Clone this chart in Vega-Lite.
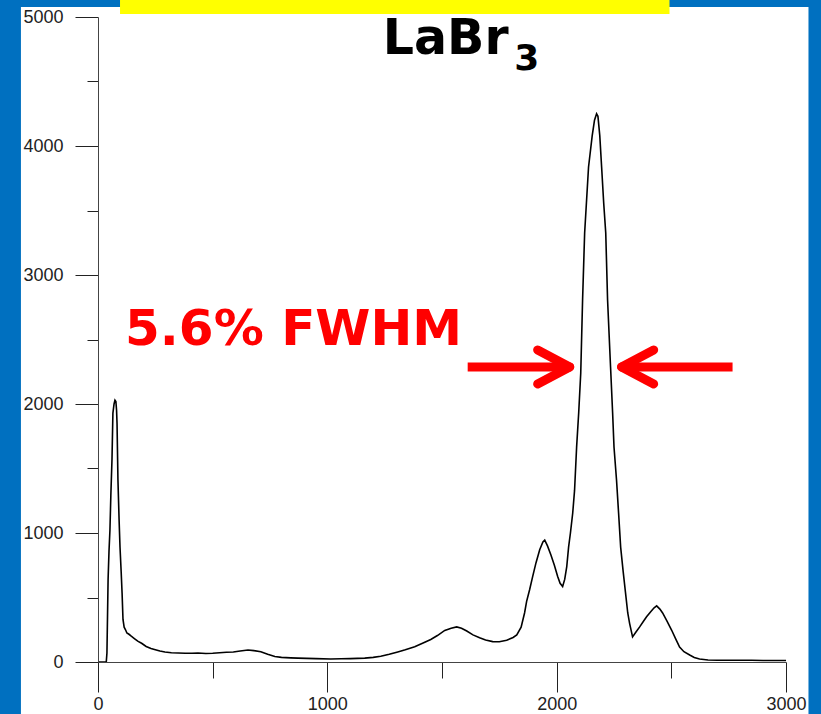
{
  "$schema": "https://vega.github.io/schema/vega-lite/v6.json",
  "width": 688,
  "height": 645,
  "autosize": {"type": "none"},
  "padding": {"left": 98, "top": 17, "right": 35, "bottom": 52},
  "background": "#0070C0",
  "config": {"view": {"stroke": null}},
  "datasets": {
    "spectrum": [
      {"channel": 0, "counts": 0}, {"channel": 30, "counts": 0}, {"channel": 36, "counts": 0},
      {"channel": 39, "counts": 70}, {"channel": 44, "counts": 640}, {"channel": 48, "counts": 860},
      {"channel": 52, "counts": 1020}, {"channel": 56, "counts": 1290}, {"channel": 61, "counts": 1570},
      {"channel": 65, "counts": 1930}, {"channel": 70, "counts": 2000}, {"channel": 74, "counts": 2030},
      {"channel": 78, "counts": 2020}, {"channel": 81, "counts": 1950}, {"channel": 83, "counts": 1850},
      {"channel": 87, "counts": 1410}, {"channel": 92, "counts": 1100}, {"channel": 96, "counts": 890},
      {"channel": 101, "counts": 700}, {"channel": 105, "counts": 535}, {"channel": 109, "counts": 330},
      {"channel": 114, "counts": 270}, {"channel": 120, "counts": 250}, {"channel": 126, "counts": 225},
      {"channel": 135, "counts": 215}, {"channel": 145, "counts": 200}, {"channel": 160, "counts": 180},
      {"channel": 175, "counts": 160}, {"channel": 190, "counts": 145}, {"channel": 210, "counts": 120},
      {"channel": 231, "counts": 105}, {"channel": 250, "counts": 95}, {"channel": 270, "counts": 85},
      {"channel": 292, "counts": 78}, {"channel": 320, "counts": 72}, {"channel": 350, "counts": 70},
      {"channel": 380, "counts": 68}, {"channel": 410, "counts": 68}, {"channel": 436, "counts": 70},
      {"channel": 470, "counts": 66}, {"channel": 500, "counts": 68}, {"channel": 530, "counts": 72},
      {"channel": 560, "counts": 76}, {"channel": 590, "counts": 78}, {"channel": 620, "counts": 85},
      {"channel": 654, "counts": 93}, {"channel": 680, "counts": 88}, {"channel": 710, "counts": 80},
      {"channel": 740, "counts": 60}, {"channel": 771, "counts": 42}, {"channel": 800, "counts": 36},
      {"channel": 840, "counts": 32}, {"channel": 871, "counts": 30}, {"channel": 910, "counts": 28},
      {"channel": 950, "counts": 26}, {"channel": 1015, "counts": 23}, {"channel": 1060, "counts": 25},
      {"channel": 1100, "counts": 26}, {"channel": 1163, "counts": 30}, {"channel": 1200, "counts": 36},
      {"channel": 1233, "counts": 45}, {"channel": 1270, "counts": 60}, {"channel": 1307, "counts": 78},
      {"channel": 1340, "counts": 95}, {"channel": 1381, "counts": 118}, {"channel": 1420, "counts": 150},
      {"channel": 1451, "counts": 175}, {"channel": 1480, "counts": 205}, {"channel": 1512, "counts": 245},
      {"channel": 1540, "counts": 262}, {"channel": 1564, "counts": 272}, {"channel": 1585, "counts": 262},
      {"channel": 1608, "counts": 240}, {"channel": 1635, "counts": 210}, {"channel": 1664, "counts": 188},
      {"channel": 1690, "counts": 170}, {"channel": 1721, "counts": 158}, {"channel": 1750, "counts": 157},
      {"channel": 1782, "counts": 168}, {"channel": 1810, "counts": 190}, {"channel": 1826, "counts": 210},
      {"channel": 1845, "counts": 270}, {"channel": 1860, "counts": 380}, {"channel": 1869, "counts": 470},
      {"channel": 1882, "counts": 560}, {"channel": 1895, "counts": 660}, {"channel": 1910, "counts": 770},
      {"channel": 1926, "counts": 870}, {"channel": 1940, "counts": 930}, {"channel": 1948, "counts": 945},
      {"channel": 1960, "counts": 900}, {"channel": 1975, "counts": 830}, {"channel": 1990, "counts": 750},
      {"channel": 2004, "counts": 665}, {"channel": 2015, "counts": 610}, {"channel": 2026, "counts": 585},
      {"channel": 2035, "counts": 640}, {"channel": 2044, "counts": 740}, {"channel": 2052, "counts": 890},
      {"channel": 2060, "counts": 1000}, {"channel": 2070, "counts": 1155}, {"channel": 2078, "counts": 1330},
      {"channel": 2087, "counts": 1667}, {"channel": 2096, "counts": 1930}, {"channel": 2105, "counts": 2240},
      {"channel": 2113, "counts": 2806}, {"channel": 2122, "counts": 3326}, {"channel": 2139, "counts": 3837},
      {"channel": 2155, "counts": 4080}, {"channel": 2165, "counts": 4200}, {"channel": 2174, "counts": 4250},
      {"channel": 2180, "counts": 4230}, {"channel": 2188, "counts": 4080}, {"channel": 2196, "counts": 3837},
      {"channel": 2205, "counts": 3560}, {"channel": 2214, "counts": 3326}, {"channel": 2222, "counts": 2806},
      {"channel": 2235, "counts": 2287}, {"channel": 2244, "counts": 1930}, {"channel": 2250, "counts": 1667},
      {"channel": 2261, "counts": 1411}, {"channel": 2270, "counts": 1155}, {"channel": 2279, "counts": 891},
      {"channel": 2290, "counts": 700}, {"channel": 2300, "counts": 540}, {"channel": 2310, "counts": 380},
      {"channel": 2318, "counts": 300}, {"channel": 2331, "counts": 195}, {"channel": 2345, "counts": 230},
      {"channel": 2362, "counts": 272}, {"channel": 2380, "counts": 320}, {"channel": 2392, "counts": 350},
      {"channel": 2410, "counts": 390}, {"channel": 2425, "counts": 420}, {"channel": 2436, "counts": 435},
      {"channel": 2450, "counts": 410}, {"channel": 2462, "counts": 380}, {"channel": 2480, "counts": 320},
      {"channel": 2501, "counts": 248}, {"channel": 2520, "counts": 175}, {"channel": 2536, "counts": 116},
      {"channel": 2555, "counts": 80}, {"channel": 2580, "counts": 54}, {"channel": 2600, "counts": 35},
      {"channel": 2623, "counts": 23}, {"channel": 2660, "counts": 16}, {"channel": 2700, "counts": 14},
      {"channel": 2750, "counts": 14}, {"channel": 2800, "counts": 13}, {"channel": 2850, "counts": 13},
      {"channel": 2900, "counts": 12}, {"channel": 2950, "counts": 12}, {"channel": 3000, "counts": 12}
    ],
    "arrows": [
      {"part": "shaft", "x": 1612, "y": 2287, "x2": 2040, "y2": 2287},
      {"part": "arm", "x": 2057, "y": 2287, "x2": 1917, "y2": 2419},
      {"part": "arm", "x": 2057, "y": 2287, "x2": 1917, "y2": 2155},
      {"part": "shaft", "x": 2300, "y": 2287, "x2": 2767, "y2": 2287},
      {"part": "arm", "x": 2283, "y": 2287, "x2": 2423, "y2": 2419},
      {"part": "arm", "x": 2283, "y": 2287, "x2": 2423, "y2": 2155}
    ]
  },
  "encoding": {
    "x": {
      "type": "quantitative",
      "scale": {"domain": [0, 3000], "nice": false, "zero": false},
      "axis": {
        "values": [0, 500, 1000, 1500, 2000, 2500, 3000],
        "format": "d",
        "labelExpr": "datum.value % 1000 === 0 ? datum.label : ''",
        "tickSize": {"condition": {"test": "datum.value % 1000 === 0", "value": 30}, "value": 16},
        "grid": false, "title": null, "zindex": 1,
        "domainColor": "#444444", "tickColor": "#222222",
        "labelFont": "Liberation Sans", "labelFontSize": 18, "labelColor": "#222222",
        "labelPadding": 3, "labelFlush": false, "labelOverlap": false
      }
    },
    "y": {
      "type": "quantitative",
      "scale": {"domain": [0, 5000], "nice": false, "zero": false},
      "axis": {
        "values": [0, 500, 1000, 1500, 2000, 2500, 3000, 3500, 4000, 4500, 5000],
        "format": "d",
        "labelExpr": "datum.value % 1000 === 0 ? datum.label : ''",
        "tickSize": {"condition": {"test": "datum.value % 1000 === 0", "value": 23}, "value": 11},
        "grid": false, "title": null, "zindex": 1,
        "domainColor": "#444444", "tickColor": "#222222",
        "labelFont": "Liberation Sans", "labelFontSize": 18, "labelColor": "#222222",
        "labelPadding": 12, "labelFlush": false, "labelOverlap": false
      }
    }
  },
  "layer": [
    {
      "data": {"values": [{}]},
      "mark": {"type": "rect", "color": "#FFFFFF"},
      "encoding": {
        "x": {"datum": -336, "type": "quantitative"},
        "x2": {"datum": 3098},
        "y": {"datum": 5078, "type": "quantitative"},
        "y2": {"datum": -600}
      }
    },
    {
      "data": {"values": [{}]},
      "mark": {"type": "rect", "color": "#FFFF00"},
      "encoding": {
        "x": {"datum": 96, "type": "quantitative"},
        "x2": {"datum": 2492},
        "y": {"datum": 5300, "type": "quantitative"},
        "y2": {"datum": 5023}
      }
    },
    {
      "data": {"name": "spectrum"},
      "mark": {"type": "line", "color": "#000000", "strokeWidth": 1.6, "clip": false},
      "encoding": {
        "x": {"field": "channel", "type": "quantitative"},
        "y": {"field": "counts", "type": "quantitative"}
      }
    },
    {
      "data": {"name": "arrows"},
      "transform": [{"filter": "datum.part === 'shaft'"}],
      "mark": {"type": "rule", "color": "#FF0000", "strokeWidth": 9, "strokeCap": "butt"},
      "encoding": {
        "x": {"field": "x", "type": "quantitative"},
        "x2": {"field": "x2"},
        "y": {"field": "y", "type": "quantitative"},
        "y2": {"field": "y2"}
      }
    },
    {
      "data": {"name": "arrows"},
      "transform": [{"filter": "datum.part === 'arm'"}],
      "mark": {"type": "rule", "color": "#FF0000", "strokeWidth": 9, "strokeCap": "round"},
      "encoding": {
        "x": {"field": "x", "type": "quantitative"},
        "x2": {"field": "x2"},
        "y": {"field": "y", "type": "quantitative"},
        "y2": {"field": "y2"}
      }
    },
    {
      "data": {"values": [{}]},
      "mark": {"type": "text", "text": "5.6% FWHM", "font": "DejaVu Sans", "fontWeight": "bold", "fontSize": 50, "color": "#FF0000", "align": "left", "baseline": "alphabetic"},
      "encoding": {
        "x": {"datum": 118, "type": "quantitative"},
        "y": {"datum": 2457, "type": "quantitative"}
      }
    },
    {
      "data": {"values": [{}]},
      "mark": {"type": "text", "text": "LaBr", "font": "DejaVu Sans", "fontWeight": "bold", "fontSize": 49, "color": "#000000", "align": "left", "baseline": "alphabetic"},
      "encoding": {
        "x": {"datum": 1242, "type": "quantitative"},
        "y": {"datum": 4710, "type": "quantitative"}
      }
    },
    {
      "data": {"values": [{}]},
      "mark": {"type": "text", "text": "3", "font": "DejaVu Sans", "fontWeight": "bold", "fontSize": 36, "color": "#000000", "align": "left", "baseline": "alphabetic"},
      "encoding": {
        "x": {"datum": 1815, "type": "quantitative"},
        "y": {"datum": 4589, "type": "quantitative"}
      }
    }
  ]
}
